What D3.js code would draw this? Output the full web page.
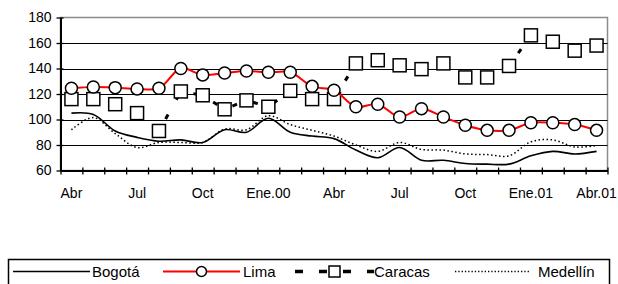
<!DOCTYPE html>
<html>
<head>
<meta charset="utf-8">
<script src="https://cdn.jsdelivr.net/npm/d3@7"></script>
<style>
body { margin: 0; background: #fff; }
text { font-family: "Liberation Sans", Arial, sans-serif; }
</style>
</head>
<body>
<div id="graph"></div>
<script>
// monthly series, Abr.99 .. Abr.01
var months = ["Abr.99","May.99","Jun.99","Jul.99","Ago.99","Sep.99","Oct.99","Nov.99","Dic.99",
	"Ene.00","Feb.00","Mar.00","Abr.00","May.00","Jun.00","Jul.00","Ago.00","Sep.00","Oct.00",
	"Nov.00","Dic.00","Ene.01","Feb.01","Mar.01","Abr.01"];
var bogota = [105, 104, 91, 86, 83, 84, 82, 92, 90, 101, 90, 87, 85, 76, 70, 78, 68, 68, 65.5, 65, 65, 71.5, 75, 73, 75];
var lima = [124.5, 125.5, 125, 124, 124.5, 140, 135, 136.5, 138, 137, 137, 126, 123, 110, 112, 102, 108.5, 102, 95.5, 91.5, 91.5, 97.5, 97.5, 96, 91.5];
var caracas = [116, 116, 112, 105, 91, 122, 119, 108, 115, 110, 122.5, 116, 116, 144, 146.5, 142.5, 139.5, 144, 133, 133, 142, 166, 161, 154, 158];
var medellin = [92, 101.5, 89, 78, 82, 82, 82, 92.5, 92, 103, 96, 91.5, 87, 80, 75, 82, 76.5, 76, 73, 72.5, 71.5, 82.5, 84, 78.5, 79.5];

var tick_labels = ["Abr","Jul","Oct","Ene.00","Abr","Jul","Oct","Ene.01","Abr.01"];
var tick_months = [0, 3, 6, 9, 12, 15, 18, 21, 24];
var y_ticks = [60, 80, 100, 120, 140, 160, 180];
var legend_names = ["Bogotá", "Lima", "Caracas", "Medellín"];

var W = 618, H = 284;
var m = {left: 60.5, right: 607.5, top: 17.5, bottom: 170.5};

var svg = d3.select("#graph").append("svg")
	.attr("width", W)
	.attr("height", H);

var scale_x = d3.scaleLinear()
	.domain([0, months.length])
	.range([m.left, m.right]);
var scale_y = d3.scaleLinear()
	.domain([60, 180])
	.range([m.bottom, m.top]);

function px(d, i) { return scale_x(i + 0.5); }

// plot border (grey)
svg.append("rect")
	.attr("x", m.left).attr("y", m.top)
	.attr("width", m.right - m.left).attr("height", m.bottom - m.top)
	.attr("fill", "none")
	.attr("stroke", "#8c8c8c")
	.attr("stroke-width", 1.5);

// gridlines
svg.selectAll("line.grid")
	.data(y_ticks.slice(1, -1))
	.enter().append("line")
	.attr("class", "grid")
	.attr("x1", m.left).attr("x2", m.right)
	.attr("y1", function(d) { return Math.round(scale_y(d)) + 0.5; })
	.attr("y2", function(d) { return Math.round(scale_y(d)) + 0.5; })
	.attr("stroke", "#000")
	.attr("stroke-width", 1.2);

// axes
var ax = svg.append("g")
	.attr("transform", "translate(0," + m.bottom + ")")
	.call(d3.axisBottom(scale_x).tickValues(d3.range(months.length + 1)).tickFormat("").tickSize(4).tickSizeOuter(0));
ax.selectAll(".tick line").attr("y1", -3).attr("stroke-width", 1.3);
ax.select(".domain").attr("stroke-width", 2);

var ay = svg.append("g")
	.attr("transform", "translate(" + m.left + ",0)")
	.call(d3.axisLeft(scale_y).tickValues(y_ticks).tickSize(4).tickSizeOuter(0).tickPadding(5));
ay.selectAll(".tick line").attr("x1", 3).attr("stroke-width", 1.3);
ay.select(".domain").attr("stroke-width", 2);
ay.selectAll("text")
	.style("font-size", "14px")
	.style("font-family", "'Liberation Sans', Arial, sans-serif")
	.attr("fill", "#000");

svg.selectAll("text.xlab")
	.data(tick_labels)
	.enter().append("text")
	.attr("class", "xlab")
	.attr("x", function(d, i) { return scale_x(tick_months[i] + 0.5); })
	.attr("y", 198)
	.attr("text-anchor", "middle")
	.style("font-size", "14px")
	.text(function(d) { return d; });

var curve = d3.curveCatmullRom.alpha(0.5);
var line = d3.line()
	.x(px)
	.y(function(d) { return scale_y(d); })
	.curve(curve);

// Medellín (dotted)
svg.append("path")
	.attr("fill", "none")
	.attr("stroke", "#000")
	.attr("stroke-width", 1.5)
	.attr("stroke-dasharray", "1.5,2.5")
	.attr("d", line(medellin));

// Bogotá
svg.append("path")
	.attr("fill", "none")
	.attr("stroke", "#000")
	.attr("stroke-width", 1.6)
	.attr("d", line(bogota));

// Caracas (thick dashes, mostly under squares)
svg.append("path")
	.attr("fill", "none")
	.attr("stroke", "#000")
	.attr("stroke-width", 3)
	.attr("stroke-dasharray", "5,17")
	.attr("d", d3.line().x(px).y(function(d) { return scale_y(d); })(caracas));

svg.selectAll("rect.car")
	.data(caracas)
	.enter().append("rect")
	.attr("class", "car")
	.attr("x", function(d, i) { return px(d, i) - 6.5; })
	.attr("y", function(d) { return scale_y(d) - 6.5; })
	.attr("width", 13).attr("height", 13)
	.attr("fill", "#fff")
	.attr("stroke", "#000")
	.attr("stroke-width", 1.5);

// Lima
svg.append("path")
	.attr("fill", "none")
	.attr("stroke", "#ff0000")
	.attr("stroke-width", 2)
	.attr("d", line(lima));

svg.selectAll("circle.lima")
	.data(lima)
	.enter().append("circle")
	.attr("class", "lima")
	.attr("cx", px)
	.attr("cy", function(d) { return scale_y(d); })
	.attr("r", 6)
	.attr("fill", "#fff")
	.attr("stroke", "#000")
	.attr("stroke-width", 1.5);

// Legend
var lg = svg.append("g");
lg.append("rect")
	.attr("x", 8.5).attr("y", 259.5)
	.attr("width", 601).attr("height", 30)
	.attr("fill", "#fff")
	.attr("stroke", "#000")
	.attr("stroke-width", 1.5);

var ly = 271.5;
var items = [
	{x1: 13, x2: 90, tx: 92},
	{x1: 163, x2: 240, tx: 243},
	{x1: 295, x2: 374, tx: 374},
	{x1: 455, x2: 530, tx: 538}
];

lg.append("line").attr("x1", items[0].x1).attr("x2", items[0].x2).attr("y1", ly).attr("y2", ly)
	.attr("stroke", "#000").attr("stroke-width", 1.6);
lg.append("line").attr("x1", items[1].x1).attr("x2", items[1].x2).attr("y1", ly).attr("y2", ly)
	.attr("stroke", "#ff0000").attr("stroke-width", 2);
lg.append("circle").attr("cx", (items[1].x1 + items[1].x2) / 2).attr("cy", ly).attr("r", 5)
	.attr("fill", "#fff").attr("stroke", "#000").attr("stroke-width", 1.5);
lg.append("line").attr("x1", items[2].x1).attr("x2", items[2].x2).attr("y1", ly).attr("y2", ly)
	.attr("stroke", "#000").attr("stroke-width", 3.5).attr("stroke-dasharray", "8,16");
lg.append("rect").attr("x", (items[2].x1 + items[2].x2) / 2 - 5.5).attr("y", ly - 5.5)
	.attr("width", 11).attr("height", 11)
	.attr("fill", "#fff").attr("stroke", "#000").attr("stroke-width", 1.5);
lg.append("line").attr("x1", items[3].x1).attr("x2", items[3].x2).attr("y1", ly).attr("y2", ly)
	.attr("stroke", "#000").attr("stroke-width", 1.3).attr("stroke-dasharray", "1.3,2");

lg.selectAll("text")
	.data(legend_names)
	.enter().append("text")
	.attr("x", function(d, i) { return items[i].tx; })
	.attr("y", ly + 5.5)
	.style("font-size", "15px")
	.text(function(d) { return d; });
</script>
</body>
</html>
